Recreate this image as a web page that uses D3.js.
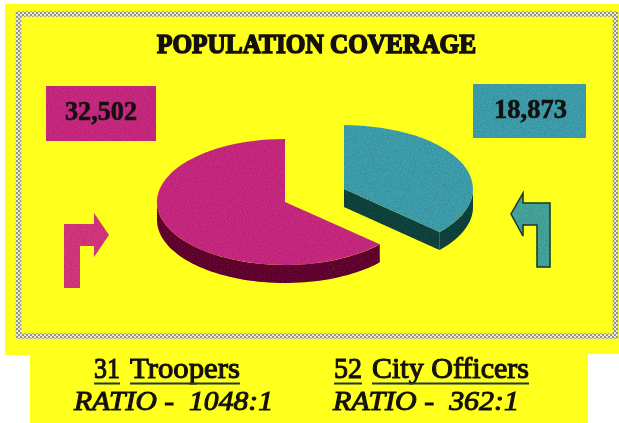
<!DOCTYPE html>
<html>
<head>
<meta charset="utf-8">
<script src="https://cdn.jsdelivr.net/npm/d3@7"></script>
<style>
html, body { margin: 0; padding: 0; background: #fff; overflow: hidden; }
svg { display: block; filter: blur(0.45px); }
text { font-family: "Liberation Serif", serif; fill: #14100f; }
</style>
</head>
<body>
<svg width="619" height="423"></svg>
<script>
// chart values
var title = "POPULATION COVERAGE";
var categories = ["Troopers", "City Officers"];
var population = [32502, 18873];
var officers = [31, 52];
var ratios = ["RATIO -  1048:1", "RATIO -  362:1"];

var colors = ["#cb2c82", "#40a0ae"],
    darkColors = ["#640c30", "#14443f"],
    yellow = "#ffff1c";

var svg = d3.select("svg");
var defs = svg.append("defs");

// halftone look of the printed colours
var grain = defs.append("filter").attr("id", "grain")
    .attr("x", 0).attr("y", 0).attr("width", 1).attr("height", 1);
grain.append("feTurbulence").attr("type", "fractalNoise")
    .attr("baseFrequency", 0.7).attr("numOctaves", 2).attr("seed", 4).attr("result", "n");
grain.append("feColorMatrix").attr("in", "n").attr("type", "matrix")
    .attr("values", "0 0 0 0 0  0 0 0 0 0  0 0 0 0 0  0 0 0 0.7 -0.28").attr("result", "d");
grain.append("feComposite").attr("in", "d").attr("in2", "SourceGraphic").attr("operator", "in").attr("result", "c");
var merge = grain.append("feMerge");
merge.append("feMergeNode").attr("in", "SourceGraphic");
merge.append("feMergeNode").attr("in", "c");

// checker for the frame
var checker = defs.append("pattern").attr("id", "checker")
    .attr("patternUnits", "userSpaceOnUse").attr("width", 4).attr("height", 4);
checker.append("rect").attr("width", 4).attr("height", 4).attr("fill", "#ecebc4");
checker.append("rect").attr("width", 2).attr("height", 2).attr("fill", "#8f9296");
checker.append("rect").attr("x", 2).attr("y", 2).attr("width", 2).attr("height", 2).attr("fill", "#8f9296");

// paper
svg.append("path")
    .attr("d", "M5,4H619V354H588V423H30V355H5Z")
    .attr("fill", yellow);

svg.append("rect")
    .attr("x", 18.5).attr("y", 14)
    .attr("width", 597).attr("height", 322)
    .attr("fill", "none")
    .attr("stroke", "url(#checker)")
    .attr("stroke-width", 5.5);

svg.append("text")
    .attr("x", 157).attr("y", 53)
    .attr("textLength", 319).attr("lengthAdjust", "spacingAndGlyphs")
    .attr("font-size", 27).attr("font-weight", "bold")
    .attr("stroke", "#14100f").attr("stroke-width", 1.6)
    .text(title);

// pie, cyan slice runs from 12 o'clock clockwise
var total = d3.sum(population);
var start = 2 * Math.PI * population[1] / total;
var pie = d3.pie().sort(null).startAngle(start).endAngle(start + 2 * Math.PI);
var slices = pie(population);

var centers = [{x: 285, y: 202, rx: 128, ry: 63}, {x: 344, y: 189, rx: 129, ry: 64}],
    depth = 18;

var arc = d3.arc().innerRadius(0).outerRadius(1);

function rimPoint(c, a, dy) {
    return [c.x + c.rx * Math.sin(a), c.y - c.ry * Math.cos(a) + dy];
}

// outer wall of the slice, only the part facing the viewer
function wallPath(c, d) {
    var steps = 60, pts = [], i, a;
    var a0 = d.startAngle, a1 = d.endAngle;
    if (a0 >= 2 * Math.PI) { a0 -= 2 * Math.PI; a1 -= 2 * Math.PI; }
    a0 = Math.max(a0, Math.PI / 2);
    a1 = Math.min(a1, 3 * Math.PI / 2);
    for (i = 0; i <= steps; i++) {
        a = a0 + (a1 - a0) * i / steps;
        pts.push(rimPoint(c, a, 0));
    }
    for (i = steps; i >= 0; i--) {
        a = a0 + (a1 - a0) * i / steps;
        pts.push(rimPoint(c, a, depth));
    }
    return d3.line()(pts) + "Z";
}

var marks = svg.append("g").attr("filter", "url(#grain)");

slices.forEach(function(d, i) {
    var c = centers[i];
    marks.append("path").attr("d", wallPath(c, d)).attr("fill", darkColors[i]);
    if (i == 1) {
        // cut face of the cyan slice
        var tip = rimPoint(c, d.endAngle, 0);
        marks.append("path")
            .attr("d", d3.line()([[c.x, c.y], tip, [tip[0], tip[1] + depth], [c.x, c.y + depth]]) + "Z")
            .attr("fill", darkColors[i]);
    }
    marks.append("path")
        .attr("d", arc(d))
        .attr("transform", "translate(" + c.x + "," + c.y + ") scale(" + c.rx + "," + c.ry + ")")
        .attr("fill", colors[i]);
});

// value boxes
var boxes = [{x: 46, y: 86, w: 110, h: 55, tx: 65, tw: 72, ty: 120}, {x: 473, y: 84, w: 113, h: 54, tx: 494, tw: 73, ty: 118}];
var fmt = d3.format(",");
population.forEach(function(v, i) {
    var b = boxes[i];
    marks.append("rect")
        .attr("x", b.x).attr("y", b.y).attr("width", b.w).attr("height", b.h)
        .attr("fill", colors[i]);
    svg.append("text")
        .attr("x", b.tx).attr("y", b.ty)
        .attr("textLength", b.tw).attr("lengthAdjust", "spacingAndGlyphs")
        .attr("font-size", 27).attr("font-weight", "bold")
        .attr("stroke", "#14100f").attr("stroke-width", 0.6)
        .text(fmt(v));
});

// arrows
marks.append("path")
    .attr("d", "M64,288V224H94V213L109,235L94,257V246H80V288Z")
    .attr("fill", "#d6377f");
marks.append("path")
    .attr("d", "M550,267V203H523V193L511,214L523,236V225H537V267Z")
    .attr("fill", "#47a69c")
    .attr("stroke", "#1d3a30").attr("stroke-width", 1.5);

// captions below the frame
var caption = [
    {nx: 94, nw: 26, cx: 130, cw: 110, rx: 74, rw: 199},
    {nx: 334, nw: 28, cx: 372, cw: 157, rx: 333, rw: 186}
];
categories.forEach(function(name, i) {
    var p = caption[i];
    var row = svg.append("g");
    row.append("text").attr("x", p.nx).attr("y", 378)
        .attr("textLength", p.nw).attr("lengthAdjust", "spacingAndGlyphs")
        .attr("font-size", 30).attr("stroke", "#14100f").attr("stroke-width", 1.1)
        .text(officers[i]);
    row.append("text").attr("x", p.cx).attr("y", 378)
        .attr("textLength", p.cw).attr("lengthAdjust", "spacingAndGlyphs")
        .attr("font-size", 30).attr("stroke", "#14100f").attr("stroke-width", 1.1)
        .text(name);
    row.selectAll("rect")
        .data([[p.nx, p.nw], [p.cx, p.cw]])
        .enter().append("rect")
        .attr("x", function(d) { return d[0]; })
        .attr("y", 382.5)
        .attr("width", function(d) { return d[1]; })
        .attr("height", 2)
        .attr("fill", "#1d3a30");
    row.append("text").attr("x", p.rx).attr("y", 410)
        .attr("textLength", p.rw).attr("lengthAdjust", "spacingAndGlyphs")
        .style("white-space", "pre")
        .attr("font-size", 27).attr("font-style", "italic").attr("stroke", "#14100f").attr("stroke-width", 1)
        .text(ratios[i]);
});
</script>
</body>
</html>
